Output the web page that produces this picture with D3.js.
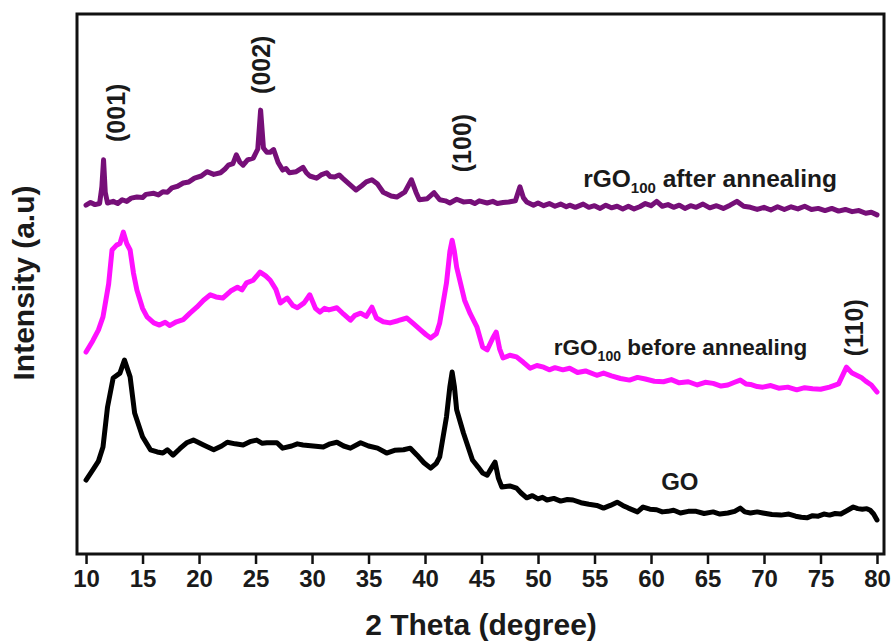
<!DOCTYPE html>
<html>
<head>
<meta charset="utf-8">
<script src="https://cdn.jsdelivr.net/npm/d3@7"></script>
<style>
  html, body { margin: 0; padding: 0; background: #fff; }
  svg { display: block; font-family: "Liberation Sans", Arial, sans-serif; }
</style>
</head>
<body>
<svg id="chart" width="893" height="644"></svg>
<script>
// ── data (2θ in degrees, intensity in arbitrary units) ─────────────────────
const xTicks = [10, 15, 20, 25, 30, 35, 40, 45, 50, 55, 60, 65, 70, 75, 80];

const rgoAfter = [
  [10.0, 64.6], [10.4, 65.1], [10.8, 64.7], [11.2, 64.9], [11.4, 68.0], [11.55, 73.0],
  [11.7, 67.0], [11.9, 65.0], [12.4, 65.3], [12.8, 64.9], [13.2, 65.6], [13.6, 65.3],
  [14.0, 65.9], [14.5, 66.1], [15.0, 66.0], [15.3, 66.6], [16.0, 66.8], [16.4, 66.5],
  [16.8, 67.1], [17.2, 67.0], [17.6, 67.8], [18.1, 68.1], [18.6, 68.7], [19.1, 68.9],
  [19.6, 69.6], [20.2, 70.0], [20.7, 70.8], [21.3, 70.3], [21.9, 70.6], [22.3, 71.3],
  [22.6, 72.0], [23.0, 72.3], [23.3, 73.9], [23.6, 72.6], [23.9, 72.0], [24.3, 73.0],
  [24.8, 73.3], [25.2, 75.0], [25.45, 82.2], [25.7, 75.2], [26.0, 74.4], [26.3, 74.4],
  [26.6, 74.9], [27.0, 72.5], [27.4, 71.1], [27.7, 71.4], [28.0, 70.6], [28.6, 70.8],
  [29.2, 71.6], [29.5, 70.6], [29.8, 70.0], [30.4, 69.6], [30.8, 70.2], [31.3, 70.6],
  [31.6, 69.9], [32.0, 69.8], [32.4, 70.2], [32.7, 69.6], [33.3, 68.5], [33.9, 67.4],
  [34.4, 68.2], [34.8, 68.9], [35.3, 69.3], [35.8, 68.5], [36.3, 67.0], [37.0, 66.3],
  [37.5, 66.1], [38.2, 67.0], [38.8, 69.3], [39.2, 67.0], [39.5, 65.6], [40.2, 65.8],
  [40.8, 66.9], [41.3, 65.6], [41.8, 65.4], [42.2, 65.0], [42.8, 65.7], [43.4, 65.2],
  [44.0, 65.3], [44.4, 64.9], [44.8, 65.4], [45.5, 65.0], [46.0, 65.3], [46.4, 64.9],
  [46.9, 65.1], [47.4, 65.2], [48.0, 65.4], [48.4, 68.0], [48.7, 66.0], [49.0, 65.2],
  [49.6, 64.6], [50.0, 65.0], [50.5, 64.5], [51.0, 64.9], [51.5, 64.4], [52.0, 64.8],
  [52.5, 64.3], [52.8, 64.6], [53.3, 64.2], [54.0, 64.8], [54.5, 64.2], [55.0, 64.5],
  [55.5, 64.0], [56.0, 64.6], [56.5, 64.1], [57.0, 64.4], [57.5, 63.9], [58.0, 64.4],
  [58.5, 63.9], [59.0, 64.3], [59.5, 64.9], [60.0, 64.5], [60.5, 65.3], [61.0, 64.4],
  [61.5, 64.7], [62.0, 64.2], [62.5, 64.6], [63.0, 64.0], [63.5, 64.5], [64.0, 64.2],
  [64.6, 64.8], [65.2, 64.1], [65.8, 64.5], [66.4, 64.0], [67.0, 64.6], [67.6, 65.3],
  [68.2, 64.4], [68.8, 64.2], [69.4, 63.8], [70.0, 64.2], [70.6, 63.7], [71.2, 64.3],
  [71.8, 63.8], [72.4, 64.3], [73.0, 63.9], [73.6, 64.4], [74.2, 63.8], [74.8, 64.0],
  [75.4, 63.6], [76.0, 64.0], [76.6, 63.5], [77.2, 63.8], [77.8, 63.4], [78.4, 63.6],
  [79.0, 63.1], [79.5, 63.3], [80.0, 62.8]
];

const rgoBefore = [
  [10.0, 37.4], [10.6, 39.5], [11.1, 41.5], [11.5, 43.9], [12.0, 50.0], [12.3, 56.3],
  [12.7, 57.2], [13.0, 57.5], [13.3, 59.6], [13.6, 57.5], [13.9, 56.3], [14.2, 52.0],
  [14.5, 48.9], [15.0, 45.5], [15.4, 43.9], [16.0, 42.8], [16.5, 42.4], [17.0, 42.9],
  [17.4, 42.3], [18.0, 43.0], [18.6, 43.4], [19.2, 44.6], [19.8, 45.7], [20.4, 47.0],
  [21.0, 48.0], [21.5, 47.6], [22.1, 47.4], [22.8, 48.7], [23.4, 49.4], [23.8, 48.9],
  [24.2, 50.2], [24.8, 50.7], [25.4, 52.2], [25.9, 51.5], [26.3, 50.7], [26.8, 49.0],
  [27.2, 46.5], [27.8, 47.4], [28.3, 46.0], [28.7, 45.6], [29.3, 46.5], [29.8, 48.0],
  [30.3, 45.5], [30.7, 44.8], [31.1, 45.5], [31.5, 45.2], [32.2, 45.6], [32.8, 44.4],
  [33.4, 43.3], [33.8, 44.2], [34.3, 44.6], [34.8, 44.0], [35.3, 45.7], [35.7, 43.7],
  [36.3, 43.0], [36.9, 42.8], [37.6, 43.2], [38.4, 43.7], [39.0, 42.6], [39.6, 41.5],
  [40.1, 40.6], [40.5, 40.0], [41.0, 40.8], [41.3, 42.8], [41.9, 50.2], [42.2, 56.0],
  [42.4, 58.1], [42.6, 56.0], [42.8, 53.1], [43.5, 47.0], [44.0, 44.5], [44.6, 42.0],
  [45.1, 38.3], [45.5, 37.8], [46.0, 40.0], [46.3, 41.1], [46.6, 38.0], [46.9, 36.3],
  [47.5, 36.8], [48.1, 36.5], [48.7, 35.5], [49.3, 34.4], [49.9, 34.9], [50.5, 34.6],
  [51.0, 34.1], [51.5, 34.5], [52.2, 34.1], [52.8, 34.4], [53.5, 33.6], [54.2, 33.9],
  [55.2, 33.1], [55.8, 33.5], [56.5, 33.0], [57.3, 32.5], [58.1, 32.2], [58.8, 32.7],
  [59.5, 32.4], [60.3, 32.0], [61.1, 31.9], [61.8, 32.3], [62.5, 31.7], [63.3, 31.9],
  [64.1, 31.3], [64.8, 31.8], [65.5, 31.6], [66.2, 31.1], [66.8, 31.3], [67.4, 31.8],
  [67.9, 32.2], [68.4, 31.5], [68.8, 31.4], [69.4, 31.0], [69.9, 30.9], [70.6, 31.2],
  [71.3, 30.7], [72.1, 30.9], [72.9, 30.4], [73.6, 30.8], [74.3, 30.6], [75.0, 30.5],
  [75.8, 30.9], [76.6, 31.5], [77.3, 34.6], [77.8, 33.5], [78.2, 33.1], [78.6, 32.7],
  [79.0, 32.0], [79.5, 31.3], [80.0, 30.0]
];

const goCurve = [
  [10.0, 13.7], [10.6, 15.6], [11.1, 17.2], [11.5, 19.8], [11.9, 27.2], [12.4, 32.6],
  [13.0, 33.5], [13.4, 35.9], [13.9, 32.8], [14.3, 26.1], [15.0, 21.7], [15.7, 19.3],
  [16.3, 18.9], [16.8, 18.7], [17.2, 19.3], [17.7, 18.3], [18.3, 19.5], [18.9, 20.6],
  [19.5, 21.1], [20.0, 20.6], [20.4, 20.2], [21.3, 19.3], [22.0, 20.0], [22.5, 20.7],
  [23.2, 20.4], [23.9, 20.2], [24.5, 20.8], [25.1, 21.1], [25.6, 20.5], [26.0, 20.6],
  [26.9, 20.6], [27.4, 19.6], [28.2, 20.0], [28.7, 20.4], [29.2, 20.2], [30.1, 20.0],
  [31.0, 19.8], [31.6, 20.4], [32.2, 20.7], [32.8, 20.0], [33.4, 19.6], [34.3, 20.6],
  [35.0, 20.0], [35.8, 19.6], [36.6, 18.7], [37.3, 19.2], [38.1, 19.3], [38.7, 19.6],
  [39.3, 18.3], [39.9, 16.9], [40.5, 15.9], [41.0, 16.8], [41.3, 18.0], [41.9, 25.4],
  [42.2, 31.0], [42.4, 33.7], [42.6, 31.0], [42.8, 26.7], [43.4, 22.4], [44.2, 17.4],
  [44.7, 16.1], [45.1, 15.0], [45.5, 14.6], [45.9, 16.0], [46.2, 17.0], [46.5, 14.0],
  [46.8, 12.4], [47.5, 12.6], [48.1, 12.2], [48.5, 11.3], [49.0, 10.4], [49.5, 10.8],
  [50.0, 10.2], [50.4, 10.5], [50.8, 10.0], [51.4, 10.3], [52.0, 9.8], [52.6, 10.1],
  [53.1, 10.0], [53.8, 9.5], [54.5, 9.2], [55.2, 9.0], [55.8, 8.5], [56.4, 9.0],
  [57.0, 9.6], [57.5, 9.0], [58.0, 8.5], [58.8, 7.8], [59.3, 8.7], [59.9, 8.3],
  [60.5, 8.2], [61.0, 7.8], [61.5, 7.9], [62.0, 8.1], [62.6, 7.6], [63.3, 7.9],
  [64.0, 7.9], [64.7, 7.5], [65.5, 7.8], [66.1, 7.4], [66.8, 7.6], [67.4, 7.9],
  [67.9, 8.5], [68.3, 7.8], [68.8, 7.6], [69.4, 7.8], [69.9, 7.6], [70.7, 7.3],
  [71.5, 7.2], [72.2, 7.4], [72.8, 7.0], [73.3, 6.8], [73.8, 6.7], [74.3, 7.1],
  [74.8, 7.0], [75.3, 7.4], [75.8, 7.2], [76.3, 7.5], [76.8, 7.4], [77.4, 8.1],
  [77.9, 8.7], [78.3, 8.4], [78.7, 8.3], [79.1, 8.4], [79.4, 8.1], [79.7, 7.4],
  [80.0, 6.3]
];

// peak labels: [2θ at baseline, intensity at label centre, text]
const peakLabels = [
  [13.45, 81.7, '(001)'],
  [26.25, 90.6, '(002)'],
  [44.05, 76.1, '(100)'],
  [78.75, 41.9, '(110)']
];

// curve labels: [2θ at text start, intensity at baseline, font size, main, subscript, rest]
const curveLabels = [
  [54.0, 68.0, 24.5, 'rGO', '100', ' after annealing'],
  [51.4, 36.9, 22.5, 'rGO', '100', ' before annealing'],
  [60.9, 11.9, 24, 'GO', '', '']
];

// ── layout ─────────────────────────────────────────────────────────────────
const M = { top: 14, left: 77 };
const W = 807;
const H = 540;
const FONT = '"Liberation Sans", Arial, sans-serif';

const svg = d3.select('#chart');
const g = svg.append('g').attr('transform', `translate(${M.left},${M.top})`);

const x = d3.scaleLinear().domain([9.2, 80.62]).range([0, W]);
const y = d3.scaleLinear().domain([0, 100]).range([H, 0]);

// ── curves ─────────────────────────────────────────────────────────────────
const line = d3.line().x((d) => x(d[0])).y((d) => y(d[1]));

[
  [goCurve, '#000000'],
  [rgoBefore, '#ff10ff'],
  [rgoAfter, '#760f78']
].forEach(([data, color]) => {
  g.append('path')
    .datum(data)
    .attr('d', line)
    .attr('fill', 'none')
    .attr('stroke', color)
    .attr('stroke-width', 5)
    .attr('stroke-linejoin', 'round')
    .attr('stroke-linecap', 'round');
});

// ── frame + x axis ─────────────────────────────────────────────────────────
g.append('rect')
  .attr('x', 0)
  .attr('y', 0)
  .attr('width', W)
  .attr('height', H)
  .attr('fill', 'none')
  .attr('stroke', '#111')
  .attr('stroke-width', 3);

const xAxis = g.append('g')
  .attr('transform', `translate(0,${H})`)
  .call(d3.axisBottom(x).tickValues(xTicks).tickSize(10).tickPadding(6).tickFormat(d3.format('d')));

xAxis.select('.domain').remove();
xAxis.selectAll('.tick line').attr('stroke', '#111').attr('stroke-width', 2.5);
xAxis.selectAll('.tick text')
  .attr('fill', '#1a1a1a')
  .attr('font-family', FONT)
  .attr('font-weight', 'bold')
  .attr('font-size', '24px');

// axis titles
svg.append('text')
  .attr('x', 481)
  .attr('y', 635)
  .attr('text-anchor', 'middle')
  .attr('font-family', FONT)
  .attr('font-weight', 'bold')
  .attr('font-size', '30px')
  .attr('fill', '#1a1a1a')
  .text('2 Theta (degree)');

svg.append('text')
  .attr('transform', 'translate(34,283) rotate(-90)')
  .attr('text-anchor', 'middle')
  .attr('font-family', FONT)
  .attr('font-weight', 'bold')
  .attr('font-size', '30px')
  .attr('fill', '#1a1a1a')
  .text('Intensity (a.u)');

// ── peak labels (rotated) ──────────────────────────────────────────────────
peakLabels.forEach(([tx, ty, label]) => {
  g.append('text')
    .attr('transform', `translate(${x(tx)},${y(ty)}) rotate(-90)`)
    .attr('text-anchor', 'middle')
    .attr('font-family', FONT)
    .attr('font-weight', 'bold')
    .attr('font-size', '25px')
    .attr('fill', '#1a1a1a')
    .text(label);
});

// ── curve labels ───────────────────────────────────────────────────────────
curveLabels.forEach(([tx, ty, fs, main, sub, rest]) => {
  const t = g.append('text')
    .attr('x', x(tx))
    .attr('y', y(ty))
    .attr('font-family', FONT)
    .attr('font-weight', 'bold')
    .attr('font-size', `${fs}px`)
    .attr('fill', '#1a1a1a');
  t.append('tspan').text(main);
  if (sub) {
    t.append('tspan').attr('font-size', `${Math.round(fs * 0.63)}px`).attr('dy', 6).text(sub);
    t.append('tspan').attr('dy', -6).text(rest);
  }
});
</script>
</body>
</html>
